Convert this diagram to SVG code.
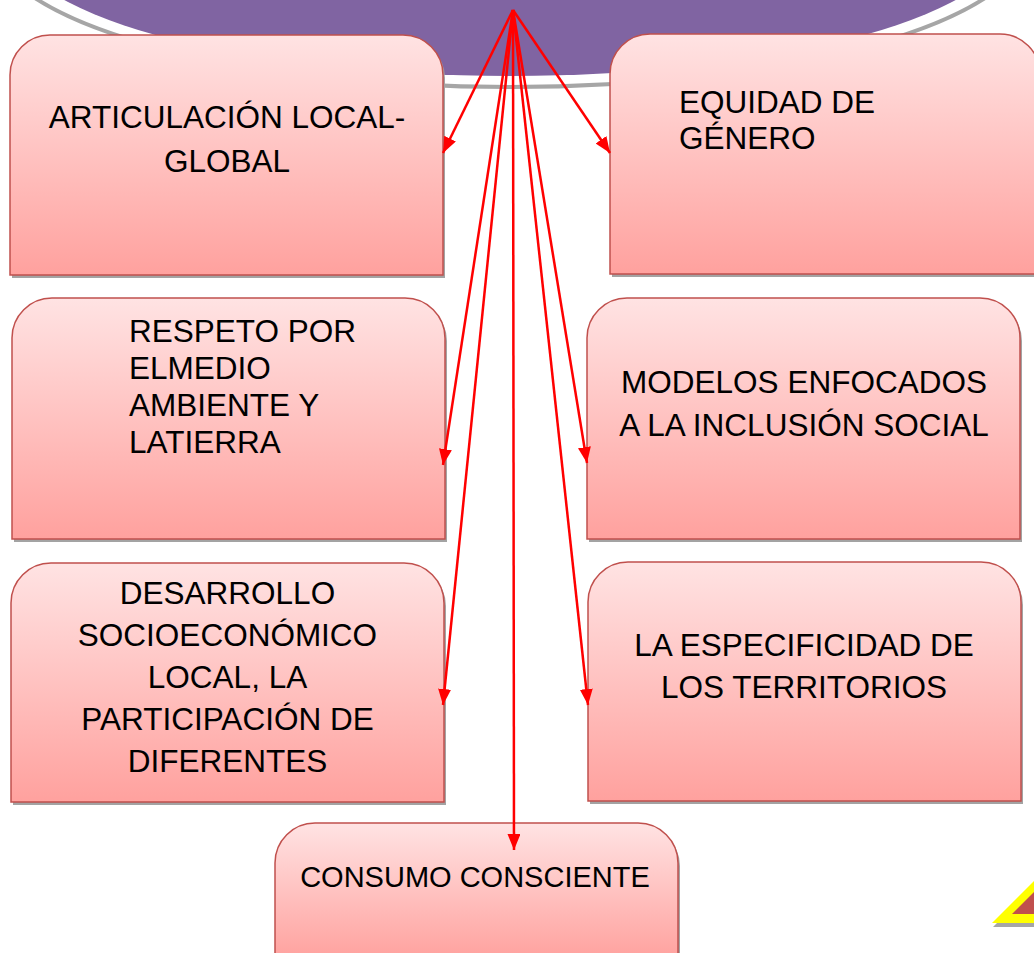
<svg xmlns="http://www.w3.org/2000/svg" width="1034" height="953" viewBox="0 0 1034 953">
<defs>
<linearGradient id="g" x1="0" y1="0" x2="0" y2="1">
<stop offset="0" stop-color="#ffe3e3"/>
<stop offset="1" stop-color="#ffa19e"/>
</linearGradient>
<marker id="ah" viewBox="0 0 16 13" refX="16" refY="6.5" markerWidth="16" markerHeight="13" markerUnits="userSpaceOnUse" orient="auto">
<path d="M0,0 L16,6.5 L0,13 z" fill="#ff0000"/>
</marker>
<style>
.box{fill:url(#g);stroke:#c0504d;stroke-width:1.5}
.sh{fill:#a3a3a3}
.t{font-family:"Liberation Sans",Arial,sans-serif;font-size:31.5px;fill:#000}
.c{text-anchor:middle}
.con line{stroke:#ff0000;stroke-width:2.5;marker-end:url(#ah)}
</style>
</defs>
<rect width="1034" height="953" fill="#ffffff"/>
<g id="hub">
<ellipse cx="510" cy="-63" rx="520" ry="150" fill="#ffffff" stroke="#a6a6a6" stroke-width="4"/>
<ellipse cx="510" cy="-63" rx="500" ry="139" fill="#8064a2"/>
</g>
<g id="n1">
<path class="sh" transform="translate(2,3)" d="M10,275 L10,75 A40,40 0 0 1 50,35 L403,35 A40,40 0 0 1 443,75 L443,275 Z"/>
<path class="box" d="M10,275 L10,75 A40,40 0 0 1 50,35 L403,35 A40,40 0 0 1 443,75 L443,275 Z"/>
<text class="t c" x="227" y="128">ARTICULACIÓN LOCAL-</text>
<text class="t c" x="227" y="172">GLOBAL</text>
</g>
<g id="n2">
<path class="sh" transform="translate(2,3)" d="M610,274 L610,74 A40,40 0 0 1 650,34 L1000,34 A40,40 0 0 1 1040,74 L1040,274 Z"/>
<path class="box" d="M610,274 L610,74 A40,40 0 0 1 650,34 L1000,34 A40,40 0 0 1 1040,74 L1040,274 Z"/>
<text class="t" x="679" y="113">EQUIDAD DE</text>
<text class="t" x="679" y="149">GÉNERO</text>
</g>
<g id="n3">
<path class="sh" transform="translate(2,3)" d="M12,539 L12,338 A40,40 0 0 1 52,298 L405,298 A40,40 0 0 1 445,338 L445,539 Z"/>
<path class="box" d="M12,539 L12,338 A40,40 0 0 1 52,298 L405,298 A40,40 0 0 1 445,338 L445,539 Z"/>
<text class="t" x="129" y="342">RESPETO POR</text>
<text class="t" x="129" y="379">ELMEDIO</text>
<text class="t" x="129" y="416">AMBIENTE Y</text>
<text class="t" x="129" y="453">LATIERRA</text>
</g>
<g id="n4">
<path class="sh" transform="translate(2,3)" d="M587,539 L587,338 A40,40 0 0 1 627,298 L980,298 A40,40 0 0 1 1020,338 L1020,539 Z"/>
<path class="box" d="M587,539 L587,338 A40,40 0 0 1 627,298 L980,298 A40,40 0 0 1 1020,338 L1020,539 Z"/>
<text class="t c" x="804" y="393">MODELOS ENFOCADOS</text>
<text class="t c" x="804" y="436">A LA INCLUSIÓN SOCIAL</text>
</g>
<g id="n5">
<path class="sh" transform="translate(2,3)" d="M11,802 L11,603 A40,40 0 0 1 51,563 L404,563 A40,40 0 0 1 444,603 L444,802 Z"/>
<path class="box" d="M11,802 L11,603 A40,40 0 0 1 51,563 L404,563 A40,40 0 0 1 444,603 L444,802 Z"/>
<text class="t c" x="227.5" y="604">DESARROLLO</text>
<text class="t c" x="227.5" y="646">SOCIOECONÓMICO</text>
<text class="t c" x="227.5" y="688">LOCAL, LA</text>
<text class="t c" x="227.5" y="730">PARTICIPACIÓN DE</text>
<text class="t c" x="227.5" y="772">DIFERENTES</text>
</g>
<g id="n6">
<path class="sh" transform="translate(2,3)" d="M588,801 L588,602 A40,40 0 0 1 628,562 L981,562 A40,40 0 0 1 1021,602 L1021,801 Z"/>
<path class="box" d="M588,801 L588,602 A40,40 0 0 1 628,562 L981,562 A40,40 0 0 1 1021,602 L1021,801 Z"/>
<text class="t c" x="804" y="656">LA ESPECIFICIDAD DE</text>
<text class="t c" x="804" y="698">LOS TERRITORIOS</text>
</g>
<g id="n7">
<path class="sh" transform="translate(2,3)" d="M275,960 L275,863 A40,40 0 0 1 315,823 L638,823 A40,40 0 0 1 678,863 L678,960 Z"/>
<path class="box" d="M275,960 L275,863 A40,40 0 0 1 315,823 L638,823 A40,40 0 0 1 678,863 L678,960 Z"/>
<text class="t c" x="475" y="887" style="font-size:29px">CONSUMO CONSCIENTE</text>
</g>
<g id="deco">
<polygon points="993,927 1064,856 1064,927" fill="#a6a6a6"/>
<polygon points="992,923 1063,852 1063,923" fill="#ffff00"/>
<polygon points="1012,914 1060,866 1060,914" fill="#c0504d"/>
</g>
<g id="connectors" class="con">
<line x1="513" y1="10" x2="443" y2="153"/>
<line x1="513" y1="10" x2="610" y2="153"/>
<line x1="513" y1="10" x2="443" y2="465"/>
<line x1="513" y1="10" x2="587" y2="463"/>
<line x1="513" y1="10" x2="443" y2="705"/>
<line x1="513" y1="10" x2="588" y2="705"/>
<line x1="513" y1="10" x2="514" y2="850"/>
</g>
</svg>
